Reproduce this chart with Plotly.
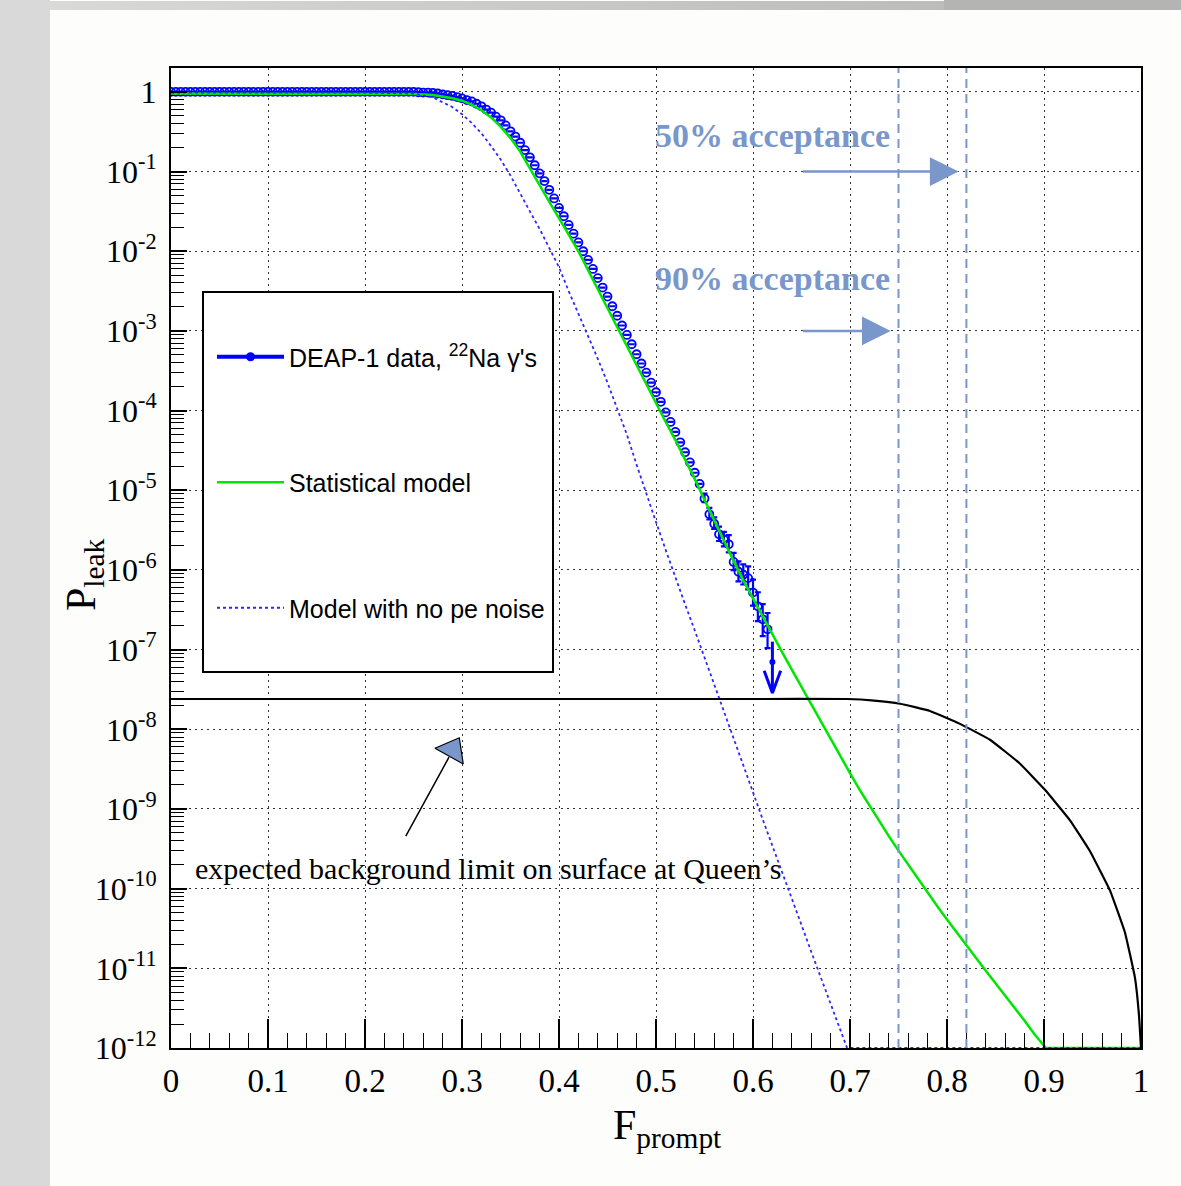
import base64
import plotly.graph_objects as go

# ---------------- data ----------------
# DEAP-1 data (22Na gammas), bins of 0.005 in Fprompt
F_data = [round(0.005 * i, 3) for i in range(124)]
P_data = ([1.0] * 51 +
          [0.99, 0.98, 0.98, 0.97, 0.955, 0.93, 0.91, 0.89, 0.86, 0.83,
           0.79, 0.76, 0.71, 0.66, 0.60, 0.55, 0.49, 0.44, 0.38, 0.32,
           0.275, 0.23, 0.186, 0.151, 0.12, 0.095, 0.076, 0.059, 0.046, 0.035,
           0.0275, 0.0214, 0.0166, 0.0129, 0.0100, 0.0078, 0.0060, 0.0046, 0.0035, 0.0027,
           0.00204, 0.00155, 0.00117, 0.00089, 0.00068, 0.00051, 0.00039, 0.00030, 0.000224, 0.00017,
           0.000129, 9.5e-5, 7.2e-5, 5.4e-5, 4.0e-5, 3.0e-5, 2.24e-5, 1.66e-5, 1.2e-5, 7.9e-6,
           5.0e-6, 3.8e-6, 2.8e-6, 2.4e-6, 2.1e-6, 1.26e-6, 9.5e-7, 8.7e-7, 7.9e-7, 5.2e-7,
           3.5e-7, 2.4e-7, 1.8e-7])
# relative error bars of the last data points (0.55 ... 0.615)
err_frac_tail = [0.15, 0.2, 0.2, 0.25, 0.25, 0.3, 0.3, 0.35, 0.35, 0.4, 0.45, 0.5, 0.55, 0.6]
# upper limit point
ul_F = [0.62]
ul_P = [7.0e-8]
ul_err_up = [5.6e-8]

# Statistical model
F_model = [0, 0.1, 0.2, 0.25, 0.27, 0.29, 0.30, 0.31, 0.32, 0.33, 0.34, 0.35, 0.36, 0.37,
           0.38, 0.39, 0.40, 0.41, 0.42, 0.43, 0.44, 0.45, 0.46, 0.47, 0.48, 0.49, 0.50,
           0.51, 0.52, 0.53, 0.54, 0.55, 0.56, 0.57, 0.58, 0.59, 0.60, 0.61, 0.62, 0.63,
           0.64, 0.65, 0.66, 0.67, 0.68, 0.69, 0.70, 0.71, 0.72, 0.73, 0.74, 0.75, 0.76,
           0.77, 0.78, 0.79, 0.80, 0.81, 0.82, 0.83, 0.84, 0.85, 0.86, 0.87, 0.88, 0.89,
           0.90, 0.902, 0.95, 1.0]
P_model = [0.955, 0.955, 0.955, 0.944, 0.912, 0.832, 0.776, 0.692, 0.589, 0.479, 0.363, 0.263,
           0.178, 0.112, 0.0676, 0.0417, 0.0263, 0.0162, 0.0100, 0.00575, 0.00331, 0.00191,
           0.00112, 6.3e-4, 3.63e-4, 2.09e-4, 1.23e-4, 7.2e-5, 4.27e-5, 2.45e-5, 1.38e-5,
           7.6e-6, 4.17e-6, 2.29e-6, 1.29e-6, 7.4e-7, 4.37e-7, 2.57e-7, 1.55e-7, 9.3e-8,
           5.6e-8, 3.4e-8, 2.04e-8, 1.23e-8, 7.4e-9, 4.57e-9, 2.82e-9, 1.74e-9, 1.1e-9,
           7.1e-10, 4.57e-10, 3.0e-10, 2.0e-10, 1.32e-10, 8.9e-11, 6.0e-11, 4.1e-11, 2.8e-11,
           1.95e-11, 1.35e-11, 9.3e-12, 6.5e-12, 4.5e-12, 3.2e-12, 2.2e-12, 1.5e-12, 1.07e-12,
           1e-12, 1e-12, 1e-12]

# Model with no pe noise
F_nopen = [0, 0.1, 0.2, 0.25, 0.27, 0.29, 0.30, 0.31, 0.32, 0.33, 0.34, 0.35, 0.36, 0.37,
           0.38, 0.39, 0.40, 0.41, 0.42, 0.43, 0.44, 0.45, 0.46, 0.47, 0.48, 0.49, 0.50,
           0.51, 0.52, 0.53, 0.54, 0.55, 0.56, 0.57, 0.58, 0.59, 0.60, 0.61, 0.62, 0.63,
           0.64, 0.65, 0.66, 0.67, 0.68, 0.69, 0.697, 0.75, 0.85, 1.0]
P_nopen = [0.977, 0.977, 0.977, 0.955, 0.851, 0.646, 0.525, 0.407, 0.302, 0.209, 0.141,
           0.0891, 0.0525, 0.0316, 0.0191, 0.011, 0.0063, 0.00316, 0.00166, 8.9e-4, 4.47e-4,
           2.24e-4, 1.07e-4, 5.0e-5, 2.09e-5, 8.9e-6, 4.0e-6, 1.78e-6, 7.9e-7, 3.7e-7, 1.74e-7,
           7.9e-8, 3.6e-8, 1.66e-8, 7.6e-9, 3.5e-9, 1.62e-9, 7.4e-10, 3.4e-10, 1.58e-10, 7.4e-11,
           3.5e-11, 1.62e-11, 7.6e-12, 3.5e-12, 1.66e-12, 1e-12, 1e-12, 1e-12, 1e-12]

# Expected background limit on surface at Queen's
F_bkg = [0, 0.2, 0.4, 0.6, 0.697, 0.725, 0.7515, 0.7825, 0.8134, 0.8443, 0.8753, 0.901,
         0.9268, 0.9474, 0.968, 0.9835, 0.9938, 0.9979, 1.0]
P_bkg = [2.4e-8, 2.4e-8, 2.4e-8, 2.4e-8, 2.4e-8, 2.29e-8, 2.09e-8, 1.70e-8, 1.17e-8, 7.4e-9,
         3.7e-9, 1.74e-9, 7.2e-10, 2.95e-10, 9.5e-11, 2.8e-11, 7.6e-12, 2.6e-12, 1e-12]

# acceptance cuts
cut_F = [0.75, 0.82]

x_ticks = [0, 0.1, 0.2, 0.3, 0.4, 0.5, 0.6, 0.7, 0.8, 0.9, 1]
x_ticktext = ["0", "0.1", "0.2", "0.3", "0.4", "0.5", "0.6", "0.7", "0.8", "0.9", "1"]
y_exps = list(range(0, -13, -1))
y_ticktext = ["1"] + ["10<sup>-%d</sup>" % (-e) for e in y_exps[1:]]

# ---------------- derived ----------------
n_tail = len(err_frac_tail)
err_up = [0.0] * (len(P_data) - n_tail) + [P_data[-n_tail + i] * f for i, f in enumerate(err_frac_tail)]
err_dn = [0.0] * (len(P_data) - n_tail) + [P_data[-n_tail + i] * f * 0.7 for i, f in enumerate(err_frac_tail)]

BLUE = "#0000ff"
GREEN = "#00e600"
ACC = "#7a97cc"
SERIF = "Liberation Serif, Times New Roman, serif"
SANS = "Liberation Sans, Arial, sans-serif"

fig = go.Figure()

# data points
fig.add_trace(go.Scatter(
    x=F_data, y=P_data, mode="markers",
    marker=dict(symbol="circle-open", size=8, color=BLUE, line=dict(width=1.8, color=BLUE)),
    error_y=dict(type="data", symmetric=False, array=err_up, arrayminus=err_dn,
                 color=BLUE, thickness=2.2, width=3),
    showlegend=False, hoverinfo="skip"))

# upper limit
fig.add_trace(go.Scatter(
    x=ul_F, y=ul_P, mode="markers",
    marker=dict(symbol="circle", size=6, color=BLUE),
    error_y=dict(type="data", symmetric=False, array=ul_err_up, arrayminus=[0],
                 color=BLUE, thickness=3, width=0),
    showlegend=False, hoverinfo="skip"))
tip = ul_P[0] * 10 ** (-0.39)
arm = tip * 10 ** (0.28)
fig.add_trace(go.Scatter(
    x=[ul_F[0], ul_F[0], None, ul_F[0] - 0.0085, ul_F[0], ul_F[0] + 0.0085],
    y=[ul_P[0], tip, None, arm, tip, arm], mode="lines",
    line=dict(color=BLUE, width=3), showlegend=False, hoverinfo="skip"))

# legend-only entry for data
fig.add_trace(go.Scatter(
    x=[None], y=[None], mode="lines+markers", name="DEAP-1 data, <sup>22</sup>Na γ's",
    line=dict(color=BLUE, width=4), marker=dict(symbol="circle", size=9, color=BLUE),
    legendgroup="a"))

# statistical model
fig.add_trace(go.Scatter(
    x=F_model, y=P_model, mode="lines", name="Statistical model",
    line=dict(color=GREEN, width=2.5), legendgroup="b", hoverinfo="skip"))

# model with no pe noise
fig.add_trace(go.Scatter(
    x=F_nopen, y=P_nopen, mode="lines", name="Model with no pe noise",
    line=dict(color="#2a2aff", width=1.8, dash="dot"), legendgroup="c", hoverinfo="skip"))

# background limit
fig.add_trace(go.Scatter(
    x=F_bkg, y=P_bkg, mode="lines", line=dict(color="black", width=2.2, shape="spline", smoothing=0.3),
    showlegend=False, hoverinfo="skip"))

# arrow head for background annotation (blue triangle with black outline)
fig.add_trace(go.Scatter(
    x=[0.2902], y=[5.5e-9], mode="markers",
    marker=dict(symbol="triangle-up", size=28, angle=29, color=ACC, line=dict(color="black", width=1.2)),
    showlegend=False, hoverinfo="skip"))

# ---------------- layout ----------------
def px2paperx(p):
    return (p - 171) / 970.0

def px2papery(p):
    return 1 - (p - 68) / 980.0

# page decoration (slide frame): left gray strip and top strip, as an SVG image
svg = ("<svg xmlns='http://www.w3.org/2000/svg' width='1181' height='1186' viewBox='0 0 1181 1186' "
       "preserveAspectRatio='none'>"
       "<defs><linearGradient id='g' x1='0' x2='1' y1='0' y2='0'>"
       "<stop offset='0' stop-color='#d9d9d9'/><stop offset='1' stop-color='#bcbcbc'/>"
       "</linearGradient></defs>"
       "<rect x='0' y='0' width='50' height='1186' fill='#d9d9d9'/>"
       "<rect x='50' y='1' width='895' height='9' fill='url(#g)'/>"
       "<rect x='944' y='0' width='237' height='10' fill='#b4b4b4'/>"
       "</svg>")
svg_uri = "data:image/svg+xml;base64," + base64.b64encode(svg.encode()).decode()

images = [dict(source=svg_uri, xref="paper", yref="paper", x=px2paperx(0), y=px2papery(0),
               sizex=1181 / 970.0, sizey=1186 / 980.0, xanchor="left", yanchor="top",
               sizing="stretch", layer="below")]

annotations = [
    dict(text="<b>50% acceptance</b>", xref="paper", yref="paper", x=px2paperx(772), y=px2papery(135),
         xanchor="center", yanchor="middle",
         showarrow=False, font=dict(family=SERIF, size=34, color=ACC)),
    dict(text="<b>90% acceptance</b>", xref="paper", yref="paper", x=px2paperx(772), y=px2papery(278),
         xanchor="center", yanchor="middle",
         showarrow=False, font=dict(family=SERIF, size=34, color=ACC)),
    dict(text="expected background limit on surface at Queen’s", xref="paper", yref="paper",
         x=px2paperx(488), y=px2papery(868), xanchor="center", yanchor="middle",
         showarrow=False, font=dict(family=SERIF, size=30, color="black")),
    # acceptance arrows (y given in log10 units)
    dict(text="", x=0.812, y=-1, ax=0.65, ay=-1, xref="x", yref="y", axref="x", ayref="y",
         showarrow=True, arrowhead=2, arrowsize=2.3, arrowwidth=2.5, arrowcolor=ACC),
    dict(text="", x=0.742, y=-3, ax=0.65, ay=-3, xref="x", yref="y", axref="x", ayref="y",
         showarrow=True, arrowhead=2, arrowsize=2.3, arrowwidth=2.5, arrowcolor=ACC),
    # stem of the background arrow
    dict(text="", x=0.2866, y=-8.35, ax=0.2412, ay=-9.36, xref="x", yref="y", axref="x", ayref="y",
         showarrow=True, arrowhead=0, arrowwidth=1.5, arrowcolor="black"),
    # axis titles
    dict(text="F<sub>prompt</sub>", xref="paper", yref="paper", x=px2paperx(667), y=px2papery(1128),
         xanchor="center", yanchor="middle",
         showarrow=False, font=dict(family=SERIF, size=42, color="black")),
    dict(text="P<sub>leak</sub>", xref="paper", yref="paper", x=px2paperx(84), y=px2papery(575),
         xanchor="center", yanchor="middle",
         showarrow=False, textangle=-90, font=dict(family=SERIF, size=42, color="black")),
]

minor_y = [m * 10.0 ** e for e in range(-12, 1) for m in range(2, 10)]

fig.update_layout(
    width=1181, height=1186,
    margin=dict(l=171, r=40, t=68, b=138),
    paper_bgcolor="#fdfdfb", plot_bgcolor="white",
    images=images, annotations=annotations,
    showlegend=True,
    legend=dict(x=px2paperx(212), y=px2papery(334), xanchor="left", yanchor="top",
                bgcolor="rgba(0,0,0,0)", borderwidth=0, tracegroupgap=90,
                font=dict(family=SANS, size=25, color="black"), itemwidth=67),
    xaxis=dict(range=[0, 1], tickmode="array", tickvals=x_ticks, ticktext=x_ticktext,
               ticks="inside", ticklen=29, tickwidth=1.5, tickcolor="black",
               showline=True, linecolor="black", linewidth=2, mirror=True,
               showgrid=True, gridcolor="#333333", griddash="2px,4px", gridwidth=1.3,
               zeroline=False, ticklabelstandoff=2,
               tickfont=dict(family=SERIF, size=33, color="black"),
               minor=dict(ticks="inside", ticklen=15, tickwidth=1.3, tickcolor="black",
                          tickmode="linear", tick0=0, dtick=0.02, showgrid=False)),
    yaxis=dict(type="log", range=[-12, 0.3], tickmode="array",
               tickvals=[10.0 ** e for e in y_exps], ticktext=y_ticktext,
               ticks="inside", ticklen=16, tickwidth=1.5, tickcolor="black",
               showline=True, linecolor="black", linewidth=2, mirror=True,
               showgrid=True, gridcolor="#333333", griddash="2px,4px", gridwidth=1.3,
               zeroline=False, ticklabelstandoff=6,
               tickfont=dict(family=SERIF, size=32, color="black"),
               minor=dict(ticks="inside", ticklen=13, tickwidth=1.2, tickcolor="black",
                          tickmode="array", tickvals=minor_y, showgrid=False)),
)

# legend box (white, black frame)
fig.add_shape(type="rect", xref="paper", yref="paper", x0=px2paperx(203), x1=px2paperx(553),
              y0=px2papery(672), y1=px2papery(292), fillcolor="white",
              line=dict(color="black", width=2), layer="above")

# acceptance cut lines
for c in cut_F:
    fig.add_vline(x=c, line=dict(color=ACC, width=2, dash="9px,6px"))

fig.write_html("out.html", config={"displayModeBar": False},
               post_script="document.body.style.margin='0px';")
